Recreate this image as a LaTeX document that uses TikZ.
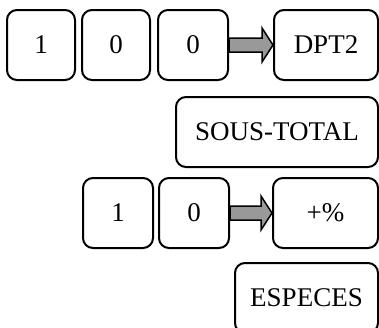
\documentclass[tikz,border=0pt]{standalone}
\usepackage{fontspec}
\setmainfont{Liberation Serif}
\begin{document}
\begin{tikzpicture}[x=1pt,y=-1pt,
  keybox/.style={draw, line width=2pt, rounded corners=10pt, minimum height=70pt, inner sep=0pt,
    font=\fontsize{27}{32}\selectfont},
  fatarrow/.style={draw, line width=1.5pt, fill=gray!80, line join=miter}]
\useasboundingbox (0,0) rectangle (379,327);
\node[keybox, minimum width=68pt] (a1) at (41,45) {1};
\node[keybox, minimum width=68pt] (a2) at (116,45) {0};
\node[keybox, minimum width=70pt] (a3) at (193,45) {0};
\node[keybox, minimum width=104pt] (dpt) at (326,45) {DPT2};
\node[keybox, minimum width=202pt] (st) at (277,132) {SOUS-TOTAL};
\node[keybox, minimum width=70pt] (c1) at (118,213) {1};
\node[keybox, minimum width=70pt] (c2) at (194,213) {0};
\node[keybox, minimum width=105pt] (pct) at (325.5,213) {+\%};
\node[keybox, minimum width=143pt] (esp) at (306.5,298) {ESPECES};
\draw[fatarrow] ([yshift=-7pt]a3.east) -- ([xshift=-11pt,yshift=-7pt]dpt.west) -- ([xshift=-11pt,yshift=-17pt]dpt.west)
  -- (dpt.west) -- ([xshift=-11pt,yshift=17pt]dpt.west) -- ([xshift=-11pt,yshift=7pt]dpt.west) -- ([yshift=7pt]a3.east) -- cycle;
\draw[fatarrow] ([yshift=-7pt]c2.east) -- ([xshift=-11pt,yshift=-7pt]pct.west) -- ([xshift=-11pt,yshift=-17pt]pct.west)
  -- (pct.west) -- ([xshift=-11pt,yshift=17pt]pct.west) -- ([xshift=-11pt,yshift=7pt]pct.west) -- ([yshift=7pt]c2.east) -- cycle;
\end{tikzpicture}
\end{document}
